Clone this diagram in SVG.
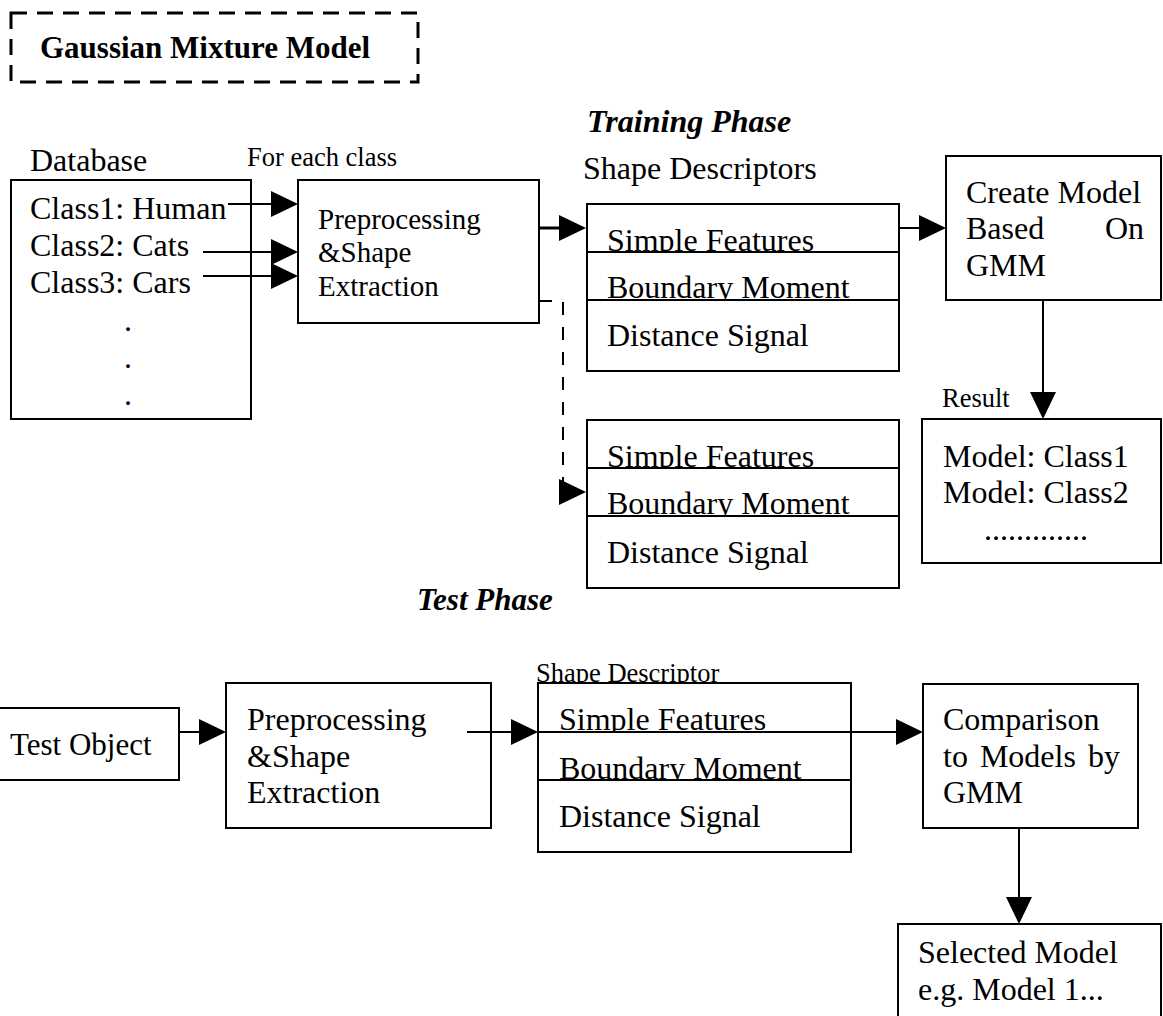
<svg xmlns="http://www.w3.org/2000/svg" width="1163" height="1016" viewBox="0 0 1163 1016">
  <style>
    text { font-family: "Liberation Serif", "Times New Roman", serif; fill: #000; }
    .t32 { font-size: 32px; }
    .t29 { font-size: 29px; }
    .t26 { font-size: 26.5px; }
    .head { font-size: 31px; font-weight: bold; }
    .phase { font-size: 32px; font-weight: bold; font-style: italic; }
    .box { fill: #fff; stroke: #000; stroke-width: 2; }
    .conn { fill: none; stroke: #000; stroke-width: 2; }
    .thick { stroke-width: 3; }
    .dash { stroke-dasharray: 13 12; }
  </style>
  <defs>
    <marker id="arrow" markerUnits="userSpaceOnUse" markerWidth="27" markerHeight="26" refX="23" refY="13" orient="auto">
      <path d="M0,0 L27,13 L0,26 Z" fill="#000"/>
    </marker>
  </defs>

  <rect width="1163" height="1016" fill="#fff"/>

  <!-- title -->
  <g id="title">
    <rect x="11" y="13" width="407" height="69" fill="none" stroke="#000" stroke-width="3" stroke-dasharray="16 10"/>
    <text class="head" x="40" y="58">Gaussian Mixture Model</text>
  </g>
  <text id="training-label" class="phase" x="587" y="132">Training Phase</text>

  <!-- database -->
  <g id="database">
    <text class="t32" x="30" y="171">Database</text>
    <rect class="box" x="11" y="180" width="240" height="239"/>
    <text class="t32" x="30" y="219">Class1: Human</text>
    <text class="t32" x="30" y="256">Class2: Cats</text>
    <text class="t32" x="30" y="293">Class3: Cars</text>
    <text class="t32" x="124" y="331">.</text>
    <text class="t32" x="124" y="368">.</text>
    <text class="t32" x="124" y="405">.</text>
  </g>

  <text id="for-each-label" class="t26" x="247" y="166">For each class</text>

  <!-- preprocessing (training) -->
  <g id="preprocess-train">
    <rect class="box" x="298" y="180" width="241" height="143"/>
    <text class="t29" x="318" y="229">Preprocessing</text>
    <text class="t29" x="318" y="262">&amp;Shape</text>
    <text class="t29" x="318" y="296">Extraction</text>
  </g>

  <!-- shape descriptors (training) -->
  <g id="descriptors-train">
    <text class="t32" x="583" y="179">Shape Descriptors</text>
    <rect class="box" x="587" y="204" width="312" height="167"/>
    <text class="t32" x="607" y="251">Simple Features</text>
    <rect class="box" x="587" y="252" width="312" height="119"/>
    <text class="t32" x="607" y="298">Boundary Moment</text>
    <rect class="box" x="587" y="300" width="312" height="71"/>
    <text class="t32" x="607" y="346">Distance Signal</text>
  </g>

  <!-- create model -->
  <g id="create-model">
    <rect class="box" x="946" y="156" width="215" height="144"/>
    <text class="t32" x="966" y="203">Create Model</text>
    <text class="t32" x="966" y="239">Based<tspan x="1105">On</tspan></text>
    <text class="t32" x="966" y="276">GMM</text>
  </g>

  <!-- result -->
  <g id="result">
    <text class="t26" x="942" y="407">Result</text>
    <rect class="box" x="922" y="419" width="239" height="144"/>
    <text class="t32" x="943" y="467">Model: Class1</text>
    <text class="t32" x="943" y="503">Model: Class2</text>
    <text class="t32" x="984" y="540">.............</text>
  </g>

  <!-- shape descriptors (second set) -->
  <g id="descriptors-extract">
    <rect class="box" x="587" y="420" width="312" height="168"/>
    <text class="t32" x="607" y="467">Simple Features</text>
    <rect class="box" x="587" y="468" width="312" height="120"/>
    <text class="t32" x="607" y="514">Boundary Moment</text>
    <rect class="box" x="587" y="516" width="312" height="72"/>
    <text class="t32" x="607" y="563">Distance Signal</text>
  </g>

  <text id="test-label" class="phase" x="417" y="610" style="font-size:31px">Test Phase</text>

  <!-- test object -->
  <g id="test-object">
    <rect class="box" x="-2" y="708" width="181" height="72"/>
    <text class="t32" x="10" y="755" style="font-size:31px">Test Object</text>
  </g>

  <!-- preprocessing (test) -->
  <g id="preprocess-test">
    <rect class="box" x="226" y="683" width="265" height="145"/>
    <text class="t32" x="247" y="730">Preprocessing</text>
    <text class="t32" x="247" y="767">&amp;Shape</text>
    <text class="t32" x="247" y="803">Extraction</text>
  </g>

  <!-- shape descriptor (test) -->
  <g id="descriptor-test">
    <text class="t26" x="536" y="682">Shape Descriptor</text>
    <rect class="box" x="538" y="683" width="313" height="169"/>
    <text class="t32" x="559" y="730">Simple Features</text>
    <rect class="box" x="538" y="732" width="313" height="120"/>
    <text class="t32" x="559" y="779">Boundary Moment</text>
    <rect class="box" x="538" y="780" width="313" height="72"/>
    <text class="t32" x="559" y="827">Distance Signal</text>
  </g>

  <!-- comparison -->
  <g id="comparison">
    <rect class="box" x="923" y="684" width="215" height="144"/>
    <text class="t32" x="943" y="730">Comparison</text>
    <text class="t32" x="943" y="767" word-spacing="4">to Models by</text>
    <text class="t32" x="943" y="803">GMM</text>
  </g>

  <!-- selected model -->
  <g id="selected-model">
    <rect class="box" x="898" y="924" width="263" height="110"/>
    <text class="t32" x="918" y="963">Selected Model</text>
    <text class="t32" x="918" y="1000">e.g. Model 1...</text>
  </g>

  <!-- connectors -->
  <g id="connectors">
    <path class="conn" d="M228,204 H294" marker-end="url(#arrow)"/>
    <path class="conn" d="M203,252 H294" marker-end="url(#arrow)"/>
    <path class="conn" d="M203,276 H294" marker-end="url(#arrow)"/>
    <path class="conn thick" d="M539,228 H582" marker-end="url(#arrow)"/>
    <path class="conn" d="M899,228 H942" marker-end="url(#arrow)"/>
    <path class="conn" d="M1043,300 V415" marker-end="url(#arrow)"/>
    <path class="conn dash" d="M539,301 H563 V492 H582" marker-end="url(#arrow)"/>
    <path class="conn" d="M179,732 H222" marker-end="url(#arrow)"/>
    <path class="conn" d="M467,732 H534" marker-end="url(#arrow)"/>
    <path class="conn" d="M538,732 H919" marker-end="url(#arrow)"/>
    <path class="conn" d="M1019,828 V920" marker-end="url(#arrow)"/>
  </g>
</svg>
